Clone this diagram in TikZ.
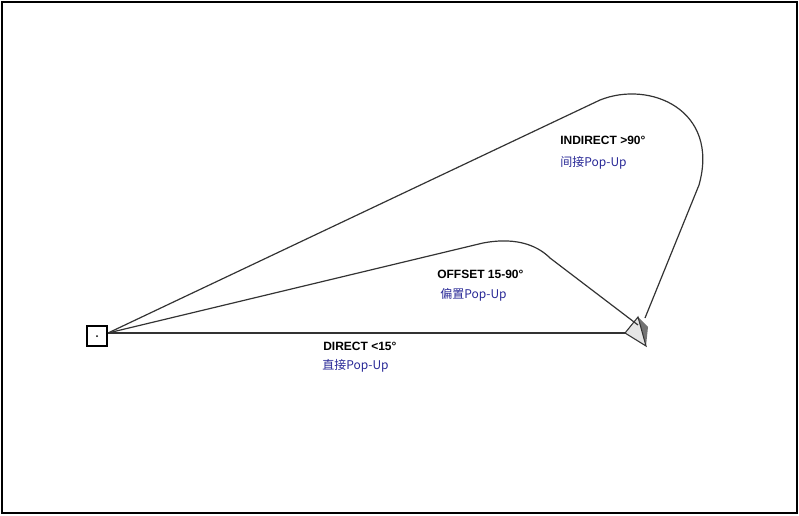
\documentclass[tikz,border=0pt]{standalone}
\usepackage{fontspec}
\setsansfont{Liberation Sans}
\newfontfamily\cjk{Noto Sans CJK SC}
\definecolor{labelblue}{RGB}{40,40,150}
\begin{document}
\begin{tikzpicture}[x=0.75pt,y=-0.75pt]
	\tikzset{every node/.style={inner sep=0pt},
		head/.style={font=\sffamily\bfseries\small,anchor=west},
		sub/.style={font=\cjk\small,text=labelblue,anchor=west},
		path/.style={draw=black!80,line width=0.9pt}}
	\useasboundingbox (0,0) rectangle (799,515);
	\draw [line width=2pt] (2,2) rectangle (797,513);
	% observer and target
	\node [draw,line width=0.8pt,minimum size=15pt] (obs) at (97,336) {};
	\fill (97,336) circle (1);
	\coordinate (start) at (108,333);
	\coordinate (tgt) at (625,333);
	\coordinate (tgtb) at (638,325);
	\coordinate (tgtc) at (645,318);
	\fill [black!55] (638,317) -- (648,327) -- (646,346) -- cycle;
	\filldraw [fill=black!10,draw=black!80,line width=0.8pt] (625,333) -- (638,317) -- (646,346) -- cycle;
	% paths
	\draw [path] (start) -- (tgt);
	\draw [path] (start) -- (483,243) .. controls (520,236) and (540,248) .. (550,258) -- (tgtb);
	\draw [path] (start) -- (600,100) .. controls (650,80) and (720,110) .. (699,185) -- (tgtc);
	% labels
	\node [head] (ind) at (560,140) {INDIRECT >90°};
	\node [sub] (indc) at (560,163) {间接Pop-Up};
	\node [head] (off) at (437,274) {OFFSET 15-90°};
	\node [sub] (offc) at (440,295) {偏置Pop-Up};
	\node [head] (dir) at (323,346) {DIRECT <15°};
	\node [sub] (dirc) at (322,366) {直接Pop-Up};
\end{tikzpicture}
\end{document}
